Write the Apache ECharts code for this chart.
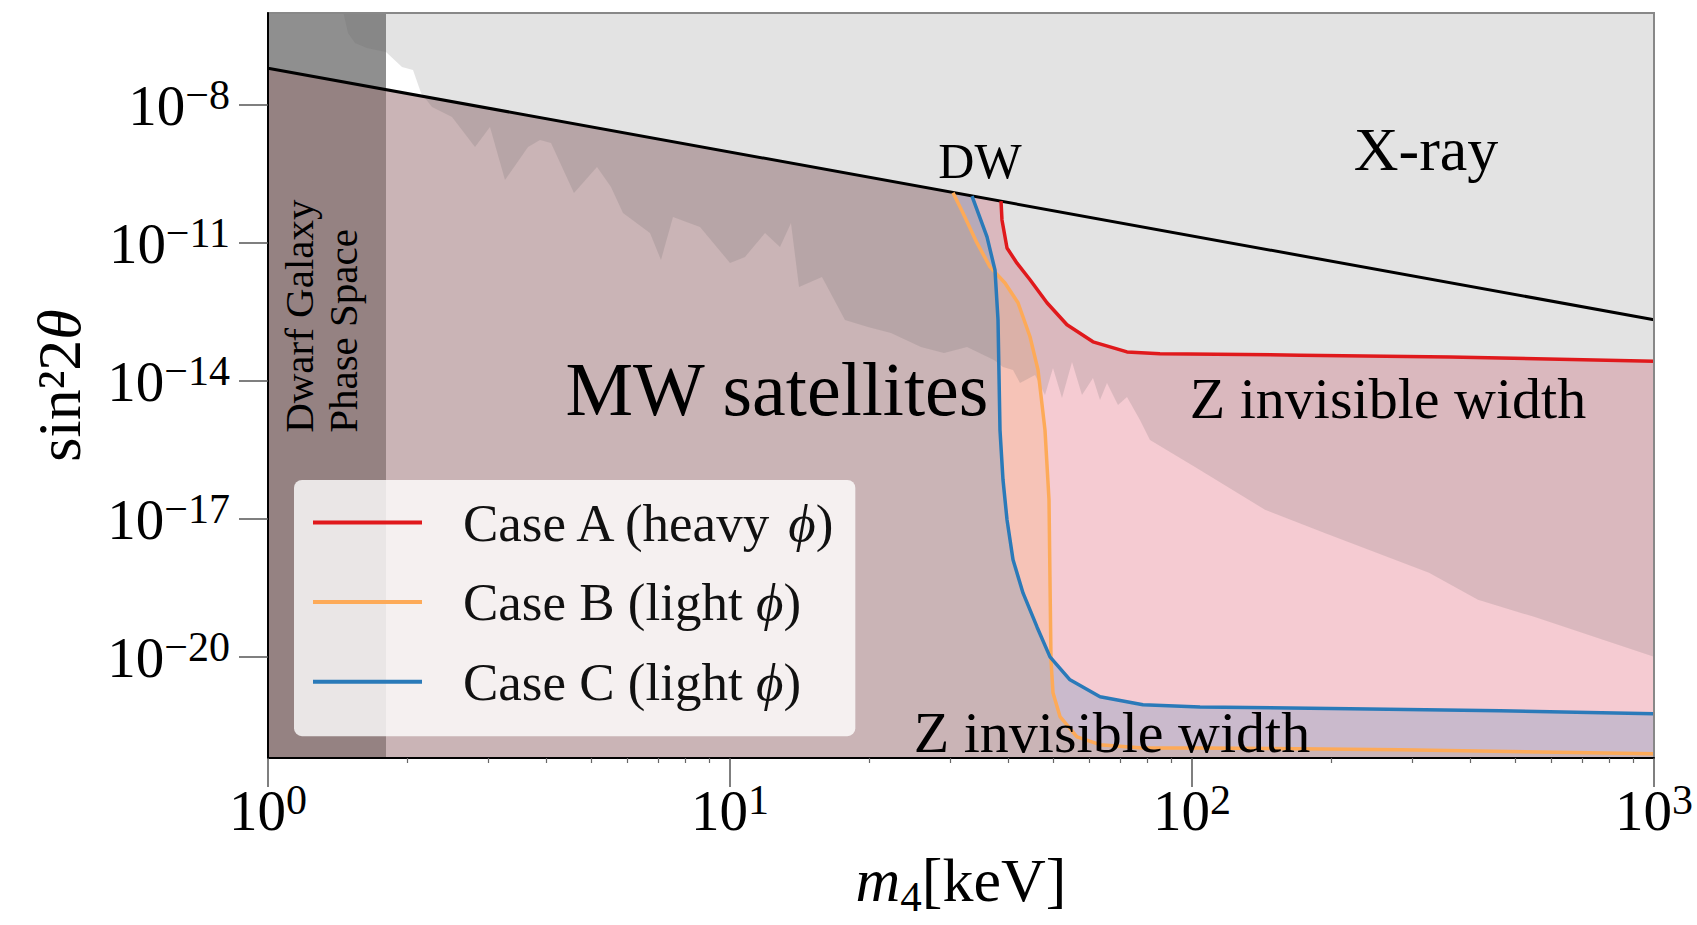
<!DOCTYPE html>
<html><head><meta charset="utf-8">
<script src="https://cdn.jsdelivr.net/npm/echarts@6/dist/echarts.min.js"></script>
<style>html,body{margin:0;padding:0;background:#fff}#c{width:1697px;height:925px}</style>
</head><body><div id="c"></div>
<script>
// ---------- data (log10 units: x = log10(m4/keV), y = log10(sin^2 2theta)) ----------
const xTickExps = [0, 1, 2, 3];
const yTickExps = [-20, -17, -14, -11, -8];
const xRange = [0, 3];
const yRange = [-22.2, -6];
const dwLine = [[0, -7.2], [3, -12.67]];
const dwarfEdge = 0.2554; // log10(1.8 keV)
const caseA = [[1.5866,-10.09],[1.5887,-10.50],[1.5996,-11.11],[1.6212,-11.44],[1.6494,-11.80],[1.6861,-12.30],[1.7294,-12.78],[1.7857,-13.15],[1.8593,-13.37],[1.9307,-13.41],[2.2338,-13.44],[2.5584,-13.48],[3.0,-13.57]];
const caseB = [[1.4827,-9.91],[1.5043,-10.35],[1.5346,-11.00],[1.5628,-11.52],[1.5952,-11.87],[1.6234,-12.30],[1.6494,-13.04],[1.6667,-13.76],[1.6818,-15.07],[1.6905,-16.59],[1.6926,-18.33],[1.6948,-20.07],[1.6991,-20.78],[1.7143,-21.30],[1.7511,-21.74],[1.8009,-21.91],[1.8939,-21.98],[2.0173,-21.98],[2.4502,-22.02],[3.0,-22.11]];
const caseC = [[1.5238,-9.98],[1.5563,-10.87],[1.5736,-11.59],[1.5801,-12.67],[1.5844,-15.07],[1.5909,-16.15],[1.5996,-17.02],[1.6126,-17.89],[1.6342,-18.61],[1.6645,-19.35],[1.6926,-20.00],[1.7359,-20.50],[1.8009,-20.87],[1.8939,-21.04],[2.0173,-21.09],[2.3420,-21.13],[2.6667,-21.17],[3.0,-21.24]];
const xrayBound = [[0.1623,-5.95],[0.1732,-6.435],[0.1883,-6.652],[0.2143,-6.761],[0.2554,-6.848],[0.2900,-7.174],[0.3139,-7.239],[0.3312,-7.739],[0.3550,-8.043],[0.3983,-8.261],[0.4481,-8.913],[0.4805,-8.478],[0.5130,-9.630],[0.5628,-8.913],[0.5887,-8.761],[0.6126,-8.826],[0.6623,-9.913],[0.7121,-9.348],[0.7424,-9.783],[0.7684,-10.348],[0.8268,-10.783],[0.8506,-11.370],[0.8766,-10.435],[0.9351,-10.652],[1.0,-11.435],[1.0325,-11.304],[1.0758,-10.783],[1.1082,-11.087],[1.1320,-10.565],[1.1494,-11.957],[1.1991,-11.739],[1.2489,-12.674],[1.2987,-12.826],[1.3485,-12.957],[1.4134,-13.261],[1.4632,-13.391],[1.5130,-13.261],[1.5714,-13.543],[1.5909,-13.696],[1.6126,-13.761],[1.6277,-14.043],[1.6602,-13.870],[1.6818,-14.304],[1.6991,-13.717],[1.7186,-14.370],[1.7403,-13.587],[1.7619,-14.304],[1.7857,-13.935],[1.8009,-14.413],[1.8160,-14.043],[1.8398,-14.522],[1.8593,-14.348],[1.8874,-14.848],[1.9091,-15.283],[2.0065,-15.870],[2.1580,-16.804],[2.2857,-17.304],[2.5130,-18.174],[2.6190,-18.761],[2.7403,-19.130],[2.8896,-19.630],[3.0,-20.0]];
const seriesNames = ['Case A (heavy ϕ)', 'Case B (light ϕ)', 'Case C (light ϕ)'];
const annotations = [
  {key:'dw', text:'DW', x:1.5411, y:-9.217},
  {key:'xray', text:'X-ray', x:2.5065, y:-8.957},
  {key:'mw', text:'MW satellites', x:1.1017, y:-14.174},
  {key:'z', text:'Z invisible width', x:2.4242, y:-14.391},
  {key:'z', text:'Z invisible width', x:1.8268, y:-21.652},
  {key:'dwarf', text:'Dwarf Galaxy\nPhase Space', x:0.1147, y:-15.13}
];

// ---------- helpers ----------
const SERIF = '"Liberation Serif", "DejaVu Serif", serif';
const yLow = -23, yHigh = -5;
function dwAt(x) {
  const [a, b] = dwLine;
  return a[1] + (b[1] - a[1]) * (x - a[0]) / (b[0] - a[0]);
}
const minorTicks = [];
for (let k = 0; k < 3; k++) for (let d = 2; d <= 9; d++) minorTicks.push(k + Math.log10(d));

function fillSeries(id, pts, color, z) {
  return {
    type: 'custom', id, coordinateSystem: 'cartesian2d', xAxisIndex: 0, yAxisIndex: 0,
    clip: true, silent: true, z, animation: false,
    data: [[pts[1][0], pts[1][1]]],
    renderItem: (p, api) => ({
      type: 'polygon',
      shape: { points: pts.map(q => api.coord(q)) },
      style: { fill: color, stroke: null }
    })
  };
}
const edgeTop = [dwarfEdge, dwAt(dwarfEdge)];
const polyPink = [[dwarfEdge, yLow], edgeTop].concat(caseA, [[3, yLow]]);
const polyOrange = [[dwarfEdge, yLow], edgeTop].concat(caseB, [[3, yLow]]);
const polyBlue = [[dwarfEdge, yLow], edgeTop].concat(caseC, [[3, yLow]]);
const polyBandLow = [[0, yLow], [0, dwAt(0)], edgeTop, [dwarfEdge, yLow]];
const polyBandHigh = [[0, dwAt(0)], [0, yHigh], [dwarfEdge, yHigh], edgeTop];
const polyXray = xrayBound.concat([[3, yHigh], [xrayBound[0][0], yHigh]]);

const annoStyle = {
  dw: {size: 50}, xray: {size: 62}, mw: {size: 76}, z: {size: 58},
  dwarf: {size: 41, lineHeight: 44, rotation: Math.PI / 2, align: 'left'}
};

const tickRich = {
  b: { fontSize: 57, lineHeight: 58, verticalAlign: 'bottom', fontFamily: SERIF, color: '#000' },
  s: { fontSize: 42, lineHeight: 42, padding: [0, 0, 18, 0], verticalAlign: 'bottom', fontFamily: SERIF, color: '#000' }
};

const chart = echarts.init(document.getElementById('c'), null, { renderer: 'svg' });
chart.setOption({
  animation: false,
  backgroundColor: '#fff',
  grid: { left: 268, right: 43, top: 13, bottom: 167, show: true, z: 10, borderColor: '#888', borderWidth: 2, backgroundColor: 'transparent', containLabel: false, outerBoundsMode: 'none' },
  xAxis: [{
    type: 'value', min: xRange[0], max: xRange[1], position: 'bottom', z: 12,
    axisLine: { show: true, onZero: false, lineStyle: { color: '#000', width: 2 } },
    axisTick: { show: true, customValues: xTickExps, length: 29, lineStyle: { color: '#555', width: 1.5 } },
    axisLabel: { show: true, customValues: xTickExps, margin: 23, formatter: v => `{b|10}{s|${Math.round(v)}}`, rich: tickRich },
    splitLine: { show: false },
    name: '{m|m}{sub|4}{k|[keV]}', nameLocation: 'middle', nameGap: 98,
    nameTextStyle: { rich: {
      m: { fontSize: 62, lineHeight: 62, fontStyle: 'italic', padding: [0, 0, 7, 0], verticalAlign: 'bottom', fontFamily: SERIF, color: '#000' },
      sub: { fontSize: 43, lineHeight: 43, verticalAlign: 'bottom', fontFamily: SERIF, color: '#000' },
      k: { fontSize: 62, lineHeight: 62, padding: [0, 0, 7, 0], verticalAlign: 'bottom', fontFamily: SERIF, color: '#000' }
    } }
  }, {
    type: 'value', min: xRange[0], max: xRange[1], position: 'bottom', z: 12, gridIndex: 0,
    axisLine: { show: false },
    axisTick: { show: true, customValues: minorTicks, length: 5, lineStyle: { color: '#666', width: 1.2 } },
    axisLabel: { show: false },
    splitLine: { show: false }
  }],
  yAxis: [{
    type: 'value', min: yRange[0], max: yRange[1], z: 12,
    axisLine: { show: true, onZero: false, lineStyle: { color: '#000', width: 2 } },
    axisTick: { show: true, customValues: yTickExps, length: 29, lineStyle: { color: '#555', width: 1.5 } },
    axisLabel: { show: true, customValues: yTickExps, margin: 38, formatter: v => `{b|10}{s|−${Math.round(-v)}}`, rich: tickRich },
    splitLine: { show: false },
    name: '{a|sin²2}{i|θ}', nameLocation: 'middle', nameGap: 178,
    nameTextStyle: { rich: {
      a: { fontSize: 62, lineHeight: 62, fontFamily: SERIF, color: '#000' },
      i: { fontSize: 62, lineHeight: 62, fontStyle: 'italic', fontFamily: SERIF, color: '#000' }
    } }
  }],
  legend: {
    data: seriesNames, orient: 'vertical', left: 294, top: 480, z: 20,
    padding: [16, 22, 28, 19], itemGap: 26.6, itemWidth: 109, itemHeight: 4, icon: 'rect',
    backgroundColor: 'rgba(255,255,255,0.8)', borderRadius: 8, selectedMode: false,
    formatter: name => name.split('ϕ').map(s => s ? `{n|${s}}` : '').join('{i|ϕ}'),
    textStyle: {
      width: 366, padding: [0, 0, 0, 36],
      rich: {
        n: { fontSize: 53, lineHeight: 60, fontFamily: SERIF, color: '#111' },
        i: { fontSize: 53, lineHeight: 60, fontStyle: 'italic', fontFamily: SERIF, color: '#111' }
      }
    }
  },
  series: [
    fillSeries('pink', polyPink, '#f5cbd2', 1),
    fillSeries('orangeFill', polyOrange, 'rgba(255,160,60,0.18)', 1.1),
    fillSeries('blueFill', polyBlue, 'rgba(31,119,180,0.2)', 1.2),
    fillSeries('bandLow', polyBandLow, '#958282', 1.3),
    fillSeries('bandHigh', polyBandHigh, '#8f8f8f', 1.3),
    fillSeries('xray', polyXray, 'rgba(99,99,99,0.18)', 1.5),
    { type: 'line', name: 'DW', data: dwLine, symbol: 'none', showSymbol: false, silent: true, z: 3,
      lineStyle: { color: '#000', width: 3 }, color: '#000' },
    { type: 'line', name: seriesNames[0], data: caseA, symbol: 'none', showSymbol: false, silent: true, z: 4,
      lineStyle: { color: '#e0191c', width: 3.5 }, itemStyle: { color: '#e0191c' }, color: '#e0191c' },
    { type: 'line', name: seriesNames[1], data: caseB, symbol: 'none', showSymbol: false, silent: true, z: 4,
      lineStyle: { color: '#fdaa58', width: 3.5 }, itemStyle: { color: '#fdaa58' }, color: '#fdaa58' },
    { type: 'line', name: seriesNames[2], data: caseC, symbol: 'none', showSymbol: false, silent: true, z: 4,
      lineStyle: { color: '#2a7ab9', width: 3.5 }, itemStyle: { color: '#2a7ab9' }, color: '#2a7ab9' },
    { type: 'custom', id: 'annotations', coordinateSystem: 'cartesian2d', silent: true, z: 6, clip: false,
      data: annotations.map(a => [a.x, a.y]),
      renderItem: (p, api) => {
        const a = annotations[p.dataIndex];
        const st = annoStyle[a.key];
        const pt = api.coord([a.x, a.y]);
        return { type: 'text', x: pt[0], y: pt[1], rotation: st.rotation || 0,
          style: { text: a.text, fontSize: st.size, fontFamily: SERIF, fill: '#000',
                   align: st.align || 'center', verticalAlign: 'middle', lineHeight: st.lineHeight || st.size } };
      } }
  ]
});
</script></body></html>
